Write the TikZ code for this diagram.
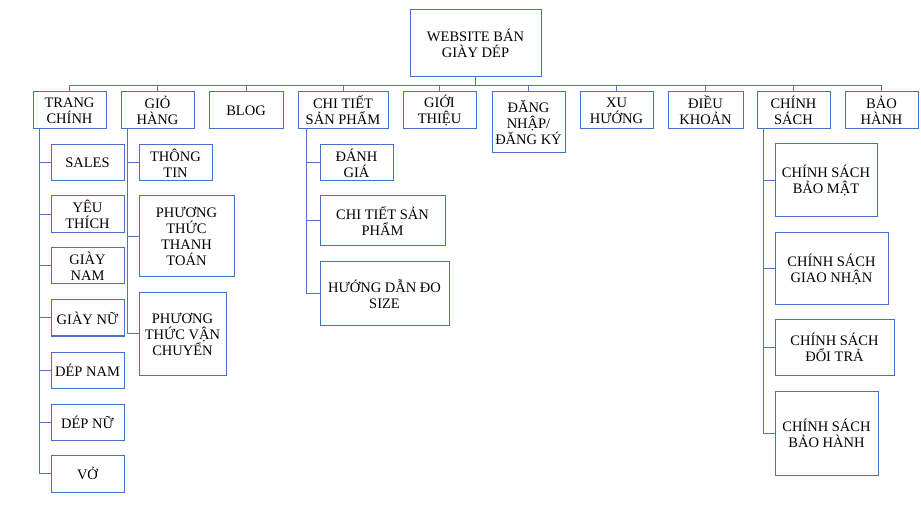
\documentclass[tikz,border=0pt]{standalone}
\usepackage{fontspec}
\setmainfont{Liberation Serif}
\definecolor{boxblue}{RGB}{68,114,196}
\definecolor{linkblue}{RGB}{78,118,190}
\tikzset{
  box/.style={draw=boxblue,line width=1pt,inner sep=0pt,align=center,
    font=\fontsize{14.5}{16}\selectfont,text=black},
  link/.style={draw=linkblue,line width=1pt}
}
\newcommand\bx[6]{\node[box,minimum width=#4pt,minimum height=#5pt] (#1) at ({#2+#4/2},{#3+#5/2}) {#6};}
\begin{document}
\begin{tikzpicture}[x=1pt,y=-1pt]
\useasboundingbox (0,0) rectangle (921,529);
\fill[white] (0,0) rectangle (921,529);
% root
\bx{root}{410}{10}{131}{67}{WEBSITE BÁN\\GIÀY DÉP}
% level 1
\bx{tc}{33}{92}{73}{37}{TRANG\\CHÍNH}
\bx{gh}{121}{92}{73}{37}{GIỎ\\HÀNG}
\bx{blog}{209}{92}{74}{37}{BLOG}
\bx{ct}{298}{92}{90}{37}{CHI TIẾT\\SẢN PHẨM}
\bx{gt}{403}{92}{73}{37}{GIỚI\\THIỆU}
\bx{dn}{492}{92}{73}{61}{ĐĂNG\\NHẬP/\\ĐĂNG KÝ}
\bx{xh}{580}{92}{73}{37}{XU\\HƯỚNG}
\bx{dk}{668}{92}{75}{37}{ĐIỀU\\KHOẢN}
\bx{cs}{757}{92}{73}{37}{CHÍNH\\SÁCH}
\bx{bh}{845}{92}{73}{37}{BẢO\\HÀNH}
% TRANG CHINH children
\bx{sales}{51}{145}{73}{36}{SALES}
\bx{yt}{51}{196}{73}{37}{YÊU\\THÍCH}
\bx{gnam}{51}{248}{73}{36}{GIÀY\\NAM}
\bx{gnu}{51}{300}{73}{36}{GIÀY NỮ}
\bx{dnam}{51}{352}{73}{36}{DÉP NAM}
\bx{dnu}{51}{404}{73}{36}{DÉP NỮ}
\bx{vo}{51}{455}{73}{37}{VỞ}
% GIO HANG children
\bx{tt}{139}{145}{73}{36}{THÔNG\\TIN}
\bx{pttt}{139}{196}{95}{81}{PHƯƠNG\\THỨC\\THANH\\TOÁN}
\bx{ptvc}{139}{293}{87}{82}{PHƯƠNG\\THỨC VẬN\\CHUYỂN}
% CHI TIET children
\bx{dg}{320}{145}{73}{36}{ĐÁNH\\GIÁ}
\bx{ctsp}{320}{196}{125}{50}{CHI TIẾT SẢN\\PHẨM}
\bx{hd}{320}{262}{129}{64}{HƯỚNG DẪN ĐO\\SIZE}
% CHINH SACH children
\bx{bm}{775}{144}{102}{73}{CHÍNH SÁCH\\BẢO MẬT}
\bx{gnh}{775}{233}{113}{72}{CHÍNH SÁCH\\GIAO NHẬN}
\bx{dt}{775}{320}{119}{55}{CHÍNH SÁCH\\ĐỔI TRẢ}
\bx{bhh}{775}{391}{103}{84}{CHÍNH SÁCH\\BẢO HÀNH}
% bus connectors
\foreach \n in {tc,gh,blog,ct,gt,dn,xh,dk,cs,bh}
  \draw[link] (root.south) -- ++(0,8) -| (\n.north);
% child connectors
\foreach \n in {sales,yt,gnam,gnu,dnam,dnu,vo}
  \draw[link] ([xshift=7pt]tc.south west) |- (\n.west);
\foreach \n in {tt,pttt,ptvc}
  \draw[link] ([xshift=7pt]gh.south west) |- (\n.west);
\foreach \n in {dg,ctsp,hd}
  \draw[link] ([xshift=9pt]ct.south west) |- (\n.west);
\foreach \n in {bm,gnh,dt,bhh}
  \draw[link] ([xshift=7pt]cs.south west) |- (\n.west);
\end{tikzpicture}
\end{document}
